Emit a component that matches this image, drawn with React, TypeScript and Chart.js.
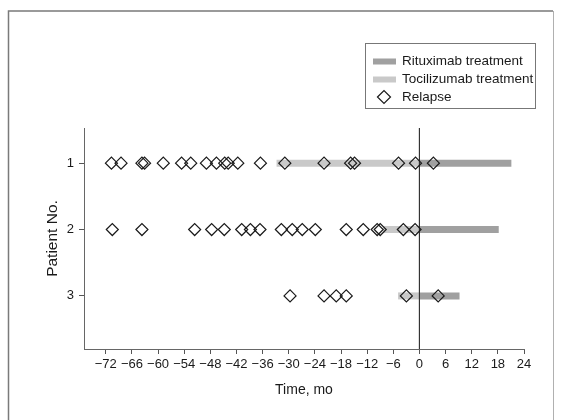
import React, { useEffect, useRef } from "react";
import { Chart, registerables } from "chart.js";

Chart.register(...registerables);

const FONT = "'Liberation Sans', Arial, Helvetica, sans-serif";

// Categories (patients) and axis ticks
const patients = [1, 2, 3];
const xTickValues = [-72, -66, -60, -54, -48, -42, -36, -30, -24, -18, -12, -6, 0, 6, 12, 18, 24];

// Relapse times (months) per patient
const relapsesP1 = [-70.7, -68.5, -63.7, -63.1, -58.8, -54.6, -52.5, -48.9, -46.6, -44.7, -43.9, -41.7, -36.5, -30.9, -21.9, -15.8, -14.9, -4.8, -0.9, 3.2];
const relapsesP2 = [-70.5, -63.7, -51.6, -47.7, -44.8, -40.8, -38.8, -36.6, -31.7, -29.2, -26.9, -23.9, -16.8, -12.9, -9.7, -9.0, -3.7, -1.0];
const relapsesP3 = [-29.7, -21.9, -19.1, -16.8, -3.0, 4.3];

// Treatment periods (months) per patient
const lightStart = [-32.8, -8.3, -4.9];
const lightEnd = [0, 0, 0];
const darkStart = [0, 0, 0];
const darkEnd = [21.1, 18.2, 9.2];

const legendLabels = ["Rituximab treatment", "Tocilizumab treatment", "Relapse"];

const DARK = "#a0a0a0";
const LIGHT = "#c9c9c9";
const INK = "#1a1a1a";

const fmt = (v: number) => (v < 0 ? "\u2212" + Math.abs(v) : String(v));

export default function App() {
  const ref = useRef<HTMLCanvasElement | null>(null);

  useEffect(() => {
    if (!ref.current) return;
    const relapseSets = [relapsesP1, relapsesP2, relapsesP3];
    const relapseData = relapseSets.flatMap((arr, i) => arr.map((x) => ({ x, y: patients[i] })));

    const segDatasets: any[] = [];
    patients.forEach((p, i) => {
      segDatasets.push({
        label: legendLabels[1],
        data: [{ x: lightStart[i], y: p }, { x: lightEnd[i], y: p }],
        showLine: true,
        borderColor: LIGHT,
        borderWidth: 7,
        borderCapStyle: "butt",
        pointRadius: 0,
      });
      segDatasets.push({
        label: legendLabels[0],
        data: [{ x: darkStart[i], y: p }, { x: darkEnd[i], y: p }],
        showLine: true,
        borderColor: DARK,
        borderWidth: 7,
        borderCapStyle: "butt",
        pointRadius: 0,
      });
    });

    const frame = {
      id: "frame",
      beforeDraw(chart: any) {
        const ctx = chart.ctx;
        ctx.save();
        ctx.fillStyle = "#fff";
        ctx.fillRect(0, 0, chart.width, chart.height);
        ctx.strokeStyle = "#7a7a7a";
        ctx.lineWidth = 1.5;
        ctx.beginPath();
        ctx.moveTo(8.5, 430);
        ctx.lineTo(8.5, 11);
        ctx.lineTo(553, 11);
        ctx.stroke();
        ctx.strokeStyle = "#b0b0b0";
        ctx.lineWidth = 1;
        ctx.beginPath();
        ctx.moveTo(553.5, 11);
        ctx.lineTo(553.5, 430);
        ctx.stroke();
        ctx.restore();
      },
    };

    const legendBox = {
      id: "legendBox",
      afterDraw(chart: any) {
        const ctx = chart.ctx;
        ctx.save();
        ctx.strokeStyle = "#777";
        ctx.lineWidth = 1;
        ctx.strokeRect(365.5, 43.5, 170, 65);
        ctx.font = "13.5px " + FONT;
        ctx.textBaseline = "middle";
        const rows = [61.5, 79.5, 97];
        ctx.fillStyle = DARK;
        ctx.fillRect(373, rows[0] - 3, 23, 6);
        ctx.fillStyle = LIGHT;
        ctx.fillRect(373, rows[1] - 3, 23, 6);
        ctx.strokeStyle = INK;
        ctx.lineWidth = 1.2;
        ctx.beginPath();
        const cx = 384, cy = rows[2], r = 6.5;
        ctx.moveTo(cx - r, cy);
        ctx.lineTo(cx, cy - r);
        ctx.lineTo(cx + r, cy);
        ctx.lineTo(cx, cy + r);
        ctx.closePath();
        ctx.stroke();
        ctx.fillStyle = INK;
        legendLabels.forEach((t, i) => ctx.fillText(t, 402, rows[i]));
        ctx.restore();
      },
    };

    const chart = new Chart(ref.current, {
      type: "scatter",
      data: {
        datasets: [
          {
            label: legendLabels[2],
            data: relapseData,
            pointStyle: "rectRot",
            pointRadius: 6,
            pointHoverRadius: 6,
            borderColor: INK,
            borderWidth: 1.2,
            backgroundColor: "rgba(0,0,0,0)",
          },
          {
            label: "zero",
            data: [{ x: 0, y: 0.47 }, { x: 0, y: 3.8 }],
            showLine: true,
            borderColor: "#333",
            borderWidth: 1,
            pointRadius: 0,
          },
          ...segDatasets,
        ],
      },
      options: {
        responsive: false,
        animation: false,
        devicePixelRatio: 1,
        events: [],
        layout: { padding: { left: 0, right: 37, top: 128, bottom: 0 } },
        plugins: { legend: { display: false }, tooltip: { enabled: false } },
        scales: {
          x: {
            type: "linear",
            min: -77,
            max: 24,
            afterBuildTicks: (s: any) => {
              s.ticks = xTickValues.map((v) => ({ value: v }));
            },
            afterFit: (s: any) => {
              s.height = 71;
            },
            ticks: {
              callback: (v: any) => fmt(Number(v)),
              font: { family: FONT, size: 13 },
              color: INK,
              maxRotation: 0,
              autoSkip: false,
              padding: 3,
            },
            grid: { drawOnChartArea: false, drawTicks: true, tickLength: 5, color: "#555", tickColor: "#555" },
            border: { display: true, color: "#666", width: 1 },
            title: {
              display: true,
              text: "Time, mo",
              font: { family: FONT, size: 14 },
              color: INK,
              padding: { top: 0, bottom: 21 },
            },
          },
          y: {
            type: "linear",
            reverse: true,
            min: 0.47,
            max: 3.8,
            afterBuildTicks: (s: any) => {
              s.ticks = patients.map((v) => ({ value: v }));
            },
            afterFit: (s: any) => {
              s.width = 84;
            },
            ticks: {
              callback: (v: any) => String(v),
              font: { family: FONT, size: 13 },
              color: INK,
              padding: 5,
            },
            grid: { drawOnChartArea: false, drawTicks: true, tickLength: 5, color: "#555", tickColor: "#555" },
            border: { display: true, color: "#666", width: 1 },
            title: {
              display: true,
              text: "Patient No.",
              font: { family: FONT, size: 15.5 },
              color: INK,
              padding: { top: 43, bottom: 0 },
            },
          },
        },
      },
      plugins: [frame, legendBox],
    } as any);

    return () => chart.destroy();
  }, []);

  return (
    <div style={{ position: "absolute", left: 0, top: 0, width: 561, height: 420 }}>
      <canvas ref={ref} width={561} height={420} style={{ display: "block", width: 561, height: 420 }} />
    </div>
  );
}
